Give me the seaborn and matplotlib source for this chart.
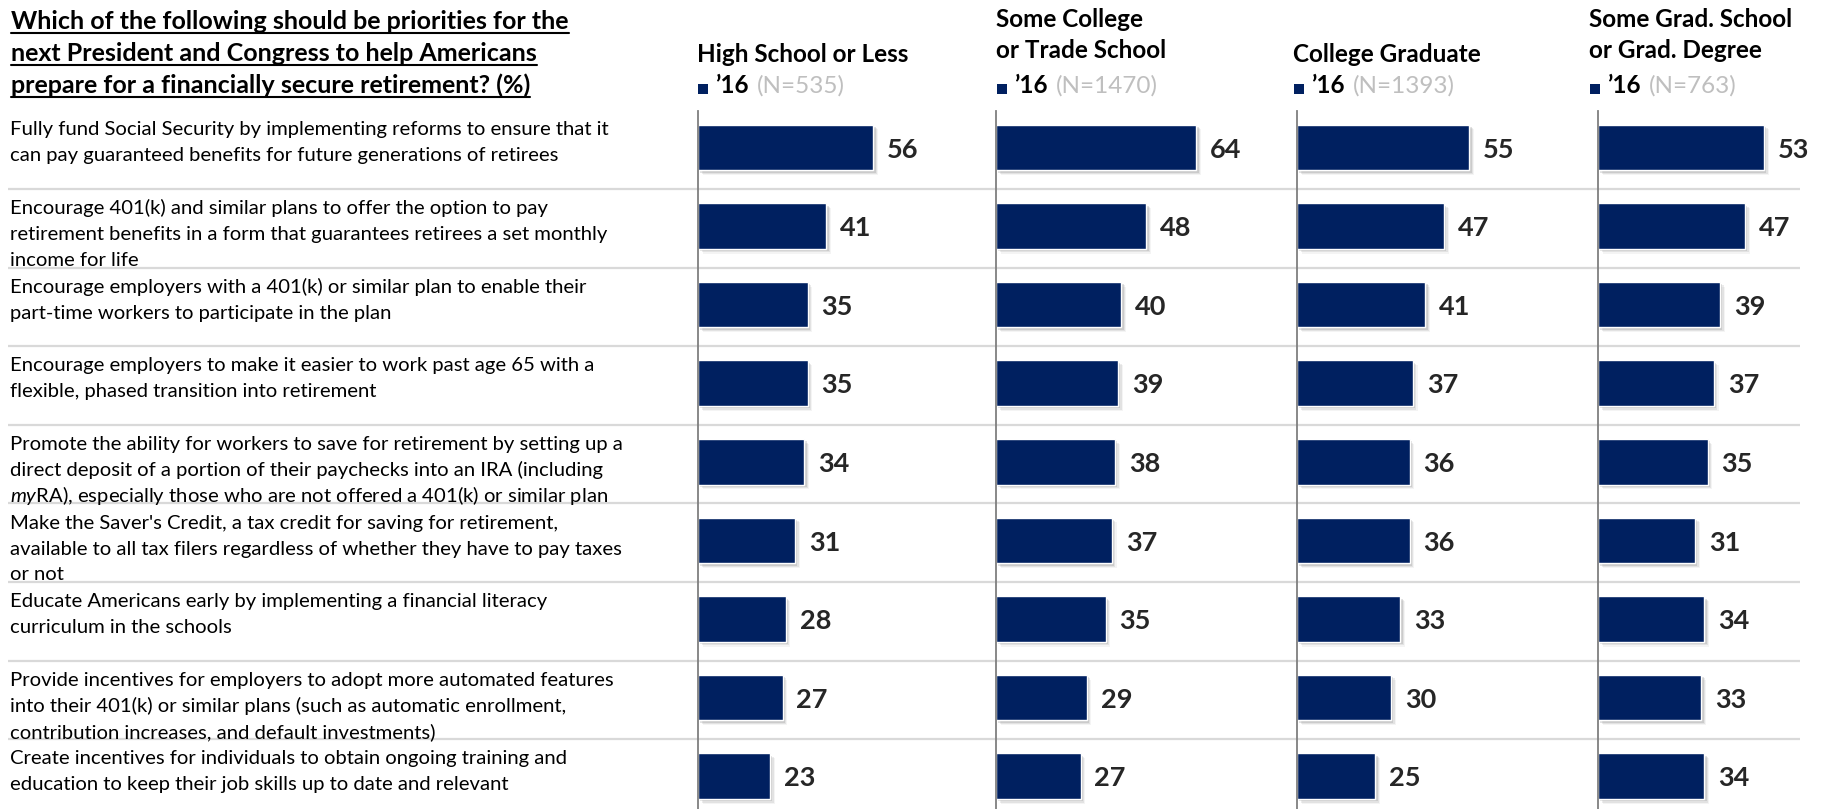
import matplotlib
matplotlib.use("Agg")
import numpy as np
import pandas as pd
import matplotlib.pyplot as plt
import matplotlib.patheffects as pe
from matplotlib.patches import Rectangle
from matplotlib.lines import Line2D
from matplotlib.transforms import IdentityTransform
import seaborn as sns

# ---------------------------------------------------------------- data
title_lines = [
    "Which of the following should be priorities for the",
    "next President and Congress to help Americans",
    "prepare for a financially secure retirement? (%)",
]

items = [
    "Fully fund Social Security by implementing reforms to ensure that it\n"
    "can pay guaranteed benefits for future generations of retirees",
    "Encourage 401(k) and similar plans to offer the option to pay\n"
    "retirement benefits in a form that guarantees retirees a set monthly\n"
    "income for life",
    "Encourage employers with a 401(k) or similar plan to enable their\n"
    "part-time workers to participate in the plan",
    "Encourage employers to make it easier to work past age 65 with a\n"
    "flexible, phased transition into retirement",
    "Promote the ability for workers to save for retirement by setting up a\n"
    "direct deposit of a portion of their paychecks into an IRA (including\n"
    "$\\mathit{my}$RA), especially those who are not offered a 401(k) or similar plan",
    "Make the Saver's Credit, a tax credit for saving for retirement,\n"
    "available to all tax filers regardless of whether they have to pay taxes\n"
    "or not",
    "Educate Americans early by implementing a financial literacy\n"
    "curriculum in the schools",
    "Provide incentives for employers to adopt more automated features\n"
    "into their 401(k) or similar plans (such as automatic enrollment,\n"
    "contribution increases, and default investments)",
    "Create incentives for individuals to obtain ongoing training and\n"
    "education to keep their job skills up to date and relevant",
]

group_headers = [
    ["High School or Less"],
    ["Some College", "or Trade School"],
    ["College Graduate"],
    ["Some Grad. School", "or Grad. Degree"],
]
sample_sizes = ["(N=535)", "(N=1470)", "(N=1393)", "(N=763)"]
year_label = "\u201916"

high_school_or_less = [56, 41, 35, 35, 34, 31, 28, 27, 23]
some_college = [64, 48, 40, 39, 38, 37, 35, 29, 27]
college_graduate = [55, 47, 41, 37, 36, 36, 33, 30, 25]
grad_school = [53, 47, 39, 37, 35, 31, 34, 33, 34]

series = [high_school_or_less, some_college, college_graduate, grad_school]
df = pd.concat(
    [pd.DataFrame({"item": items, "group": g, "pct": vals})
     for g, vals in enumerate(series)],
    ignore_index=True,
)

# ---------------------------------------------------------------- style
sns.set_theme(style="white")
plt.rcParams["font.family"] = ["Lato", "DejaVu Sans"]
plt.rcParams["mathtext.fontset"] = "custom"
plt.rcParams["mathtext.rm"] = "Lato"
plt.rcParams["mathtext.it"] = "Lato:italic"
plt.rcParams["mathtext.bf"] = "Lato:bold"

NAVY = "#002060"
GRID = "#d9d9d9"
AXIS = "#7f7f7f"
VALUE = "#262626"
MUTED = "#bfbfbf"

W, H = 1821, 809
fig = plt.figure(figsize=(W / 100, H / 100), dpi=100)
fig.patch.set_facecolor("white")

plot_top = 110.5          # px from top where the rows begin
row_h = 78.6              # px per row
rows_visible = (H - plot_top) / row_h
ylim = (-0.5 + rows_visible, -0.5)
bar_shift = 0.03          # bars sit slightly above the row centre
panel_x = [698, 996, 1297, 1598]
header_x = [697, 996, 1293, 1589]
x_max = 70
px_per_unit = 3.13

LABEL_SIZE = 14.6
LABEL_FIRST_BASE = 25     # px below row top
LABEL_STEP = 26           # px between label baselines


def fx(px):
    return px / W


def fy(px_from_top):
    return 1 - px_from_top / H


plot_h = (H - plot_top) / H

# background axes: row separators and item labels
ax_bg = fig.add_axes([fx(8), 0, fx(1800 - 8), plot_h])
ax_bg.set_zorder(0)
ax_bg.set_xlim(0, 1)
ax_bg.set_ylim(*ylim)
ax_bg.axis("off")
for i in range(len(items)):
    ax_bg.axhline(i + 0.5, color=GRID, lw=1.6, zorder=0)
for i, label in enumerate(items):
    for k, line in enumerate(label.split("\n")):
        ax_bg.annotate(
            line, xy=(0, i - 0.5), xycoords=("axes fraction", "data"),
            xytext=(2, -(LABEL_FIRST_BASE + k * LABEL_STEP)),
            textcoords="offset pixels", ha="left", va="baseline",
            fontsize=LABEL_SIZE, color="black", annotation_clip=False,
        )

shadow = [
    pe.SimplePatchShadow(offset=(3.4, -3.4), shadow_rgbFace="#9a9a9a", alpha=0.10),
    pe.SimplePatchShadow(offset=(2.6, -2.6), shadow_rgbFace="#8a8a8a", alpha=0.16),
    pe.SimplePatchShadow(offset=(1.7, -1.7), shadow_rgbFace="#7a7a7a", alpha=0.22),
    pe.Normal(),
]

# one bar panel per education group
for g, x0 in enumerate(panel_x):
    ax = fig.add_axes([fx(x0), 0, fx(x_max * px_per_unit), plot_h])
    ax.set_zorder(2)
    ax.patch.set_alpha(0)
    sns.barplot(
        data=df[df["group"] == g], x="pct", y="item", order=items,
        orient="h", color=NAVY, saturation=1, width=0.58, ax=ax,
    )
    for patch in ax.patches:
        patch.set_path_effects(shadow)
    value_labels = ax.bar_label(ax.containers[0], fmt="%g", padding=10,
                                fontsize=19.5, fontweight="bold", color=VALUE)
    for ann in value_labels:
        ann.xyann = (10, -1.5)
    ax.set_xlim(0, x_max)
    ax.set_ylim(ylim[0] + bar_shift, ylim[1] + bar_shift)
    ax.set(xlabel="", ylabel="")
    ax.tick_params(left=False, labelleft=False, bottom=False, labelbottom=False)
    for side in ("top", "right", "bottom"):
        ax.spines[side].set_visible(False)
    ax.spines["left"].set_color(AXIS)
    ax.spines["left"].set_linewidth(1.3)

renderer = fig.canvas.get_renderer()

# underlined question title
title_baselines = [29, 61, 93]
for line, base in zip(title_lines, title_baselines):
    t = fig.text(fx(11), fy(base), line, ha="left", va="baseline",
                 fontsize=18, fontweight="bold", color="black")
    bb = t.get_window_extent(renderer=renderer)
    y_ul = H - base - 3.5
    fig.add_artist(Line2D([bb.x0, bb.x1], [y_ul, y_ul], color="black",
                          lw=1.5, transform=IdentityTransform()))

# group headers with legend key and sample size
HEAD_SIZE = 17.5
for g, hx in enumerate(header_x):
    lines = group_headers[g]
    bases = [62] if len(lines) == 1 else [27, 58]
    for line, base in zip(lines, bases):
        fig.text(fx(hx), fy(base), line, ha="left", va="baseline",
                 fontsize=HEAD_SIZE, fontweight="bold", color="black")
    key_base = 93
    fig.add_artist(Rectangle((fx(hx + 1), fy(key_base + 1)), fx(10), 10 / H,
                             facecolor=NAVY, edgecolor="none"))
    t16 = fig.text(fx(hx + 19), fy(key_base), year_label, ha="left",
                   va="baseline", fontsize=HEAD_SIZE, fontweight="bold",
                   color="black")
    bb = t16.get_window_extent(renderer=renderer)
    fig.text((bb.x1 + 7) / W, fy(key_base), sample_sizes[g], ha="left",
             va="baseline", fontsize=HEAD_SIZE, color=MUTED)

fig.savefig("out.png", dpi=100, facecolor="white")
